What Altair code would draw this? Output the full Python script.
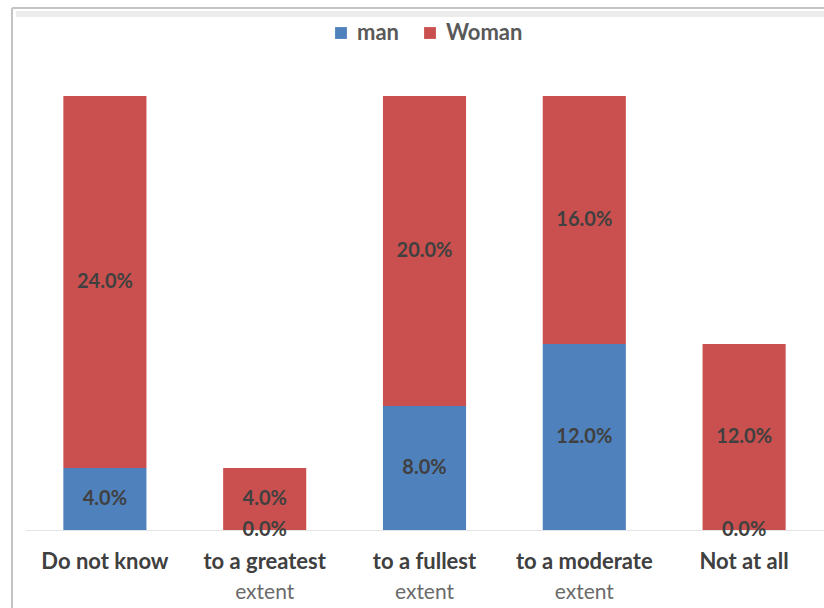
import altair as alt
import pandas as pd

categories = ["Do not know", "to a greatest", "to a fullest", "to a moderate", "Not at all"]
second_line = ["", "extent", "extent", "extent", ""]
series = ["man", "Woman"]
man_values = [4.0, 0.0, 8.0, 12.0, 0.0]
woman_values = [24.0, 4.0, 20.0, 16.0, 12.0]
colors = ["#4F81BD", "#C9504E"]

rows = []
for i, c in enumerate(categories):
    rows.append({"cat": c, "series": "man", "value": man_values[i], "order": 0})
    rows.append({"cat": c, "series": "Woman", "value": woman_values[i], "order": 1})
df = pd.DataFrame(rows)
df["label"] = df["value"].map(lambda v: f"{v:.1f}%")
df["start"] = df.groupby("cat")["value"].cumsum() - df["value"]
df["mid"] = df["start"] + df["value"] / 2

sub = pd.DataFrame({"cat": categories, "line2": second_line})

W, H = 799, 434
FONT = "Lato"

x_enc = alt.X("cat:N", sort=categories,
              scale=alt.Scale(paddingInner=0.48, paddingOuter=0.24),
              axis=alt.Axis(title=None, labelAngle=0, labelFont=FONT, labelFontSize=22,
                            labelFontWeight="bold", labelColor="#404040", labelPadding=21,
                            ticks=False, domainColor="#e4e4e4", domainWidth=1))

bars = alt.Chart(df).mark_bar().encode(
    x=x_enc,
    y=alt.Y("value:Q", stack="zero", scale=alt.Scale(domain=[0, 28], nice=False),
            axis=None),
    color=alt.Color("series:N", sort=series,
                    scale=alt.Scale(domain=series, range=colors),
                    legend=alt.Legend(title=None, orient="none", direction="horizontal",
                                      legendX=305, legendY=-74, symbolType="square",
                                      symbolSize=140, symbolStrokeWidth=0,
                                      labelFont=FONT, labelFontSize=22, labelFontWeight="bold",
                                      labelColor="#595959", columnPadding=20, labelOffset=5)),
    order=alt.Order("order:Q"),
)

labels = alt.Chart(df).mark_text(font=FONT, fontSize=20, fontWeight="bold",
                                 color="#404040", baseline="middle").encode(
    x=alt.X("cat:N", sort=categories),
    y=alt.Y("mid:Q"),
    text="label:N",
)

line2 = alt.Chart(sub).mark_text(font=FONT, fontSize=21, color="#6b6b6b",
                                 baseline="middle").encode(
    x=alt.X("cat:N", sort=categories),
    y=alt.value(H + 63),
    text="line2:N",
)

frame_left = alt.Chart(sub).mark_rule(color="#c4c4c4", strokeWidth=2).encode(
    x=alt.value(-13), y=alt.value(-88), y2=alt.value(H + 90))
frame_top = alt.Chart(sub).mark_rule(color="#c4c4c4", strokeWidth=2).encode(
    x=alt.value(-13), x2=alt.value(W + 10), y=alt.value(-88))
frame_top2 = alt.Chart(sub).mark_rule(color="#ececec", strokeWidth=6).encode(
    x=alt.value(-9), x2=alt.value(W + 10), y=alt.value(-82))

chart = alt.layer(frame_top2, frame_left, frame_top, bars, labels, line2).properties(
    width=W, height=H,
    background="white",
    autosize=alt.AutoSizeParams(type="none"),
    padding={"left": 25, "top": 96, "right": 0, "bottom": 78},
).configure_view(stroke="transparent", strokeWidth=0)

chart.save("out.html", embed_options={"renderer": "svg", "actions": False})
